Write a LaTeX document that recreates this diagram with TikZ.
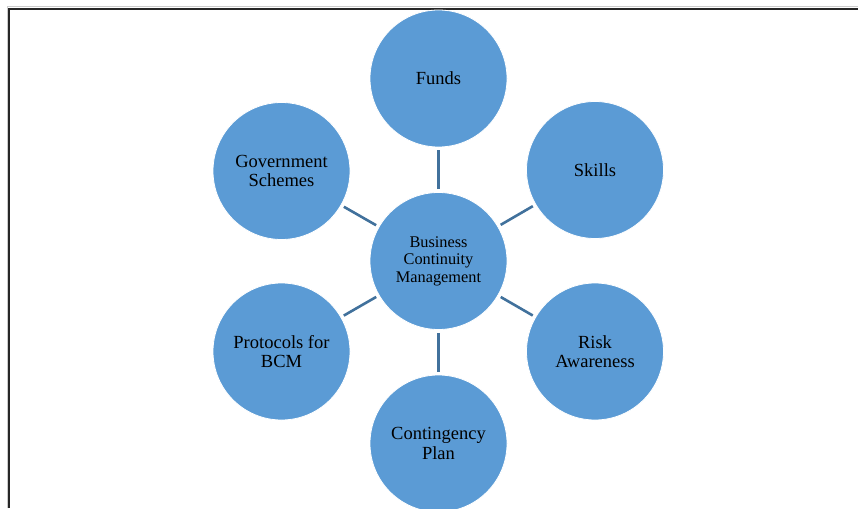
\documentclass[tikz,border=0pt]{standalone}
\usepackage{fontspec}
\setmainfont{Liberation Serif}
\definecolor{bcmfill}{HTML}{5B9BD5}
\definecolor{bcmline}{HTML}{41719C}
\begin{document}
\begin{tikzpicture}[x=1pt,y=1pt]
\tikzstyle{every node}+=[inner sep=0pt]
\tikzstyle{hub}=[circle,fill=bcmfill,draw=white,line width=0.8pt,minimum size=137pt,align=center,font=\fontsize{16.3}{17.5}\selectfont]
\tikzstyle{leaf}=[hub,font=\fontsize{18.5}{19.5}\selectfont]
\tikzstyle{spoke}=[bcmline,line width=2.6pt,shorten >=3pt,shorten <=3pt]
\useasboundingbox (0,0) rectangle (858,-508);
\draw [black!20,line width=1pt] (7,-508) -- (7,-7) -- (858,-7);
\draw [black!85,line width=1.8pt] (9,-508) -- (9,-9) -- (858,-9);
\node [hub] (bcm) at (438.5,-261) {Business\\Continuity\\Management};
\node [leaf] (funds) at (438.5,-78.5) {Funds};
\node [leaf] (skills) at (595,-170) {Skills};
\node [leaf] (risk) at (595,-351.5) {Risk\\Awareness};
\node [leaf] (plan) at (438.5,-443.5) {Contingency\\Plan};
\node [leaf] (proto) at (281.5,-351.5) {Protocols for\\BCM};
\node [leaf] (govt) at (281.5,-171) {Government\\Schemes};
\draw [spoke] (bcm) -- (funds);
\draw [spoke] (bcm) -- (skills);
\draw [spoke] (bcm) -- (risk);
\draw [spoke] (bcm) -- (plan);
\draw [spoke] (bcm) -- (proto);
\draw [spoke] (bcm) -- (govt);
\end{tikzpicture}
\end{document}
